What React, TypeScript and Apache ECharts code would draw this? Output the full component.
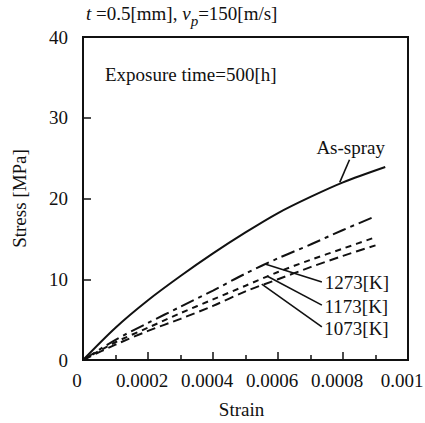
import React, { useEffect, useRef } from "react";
import * as echarts from "echarts";

const strain = [0, 0.0001, 0.0002, 0.0003, 0.0004, 0.0005, 0.0006, 0.0007, 0.0008, 0.0009];
const strainAsSpray = [0, 0.0001, 0.0002, 0.0003, 0.0004, 0.0005, 0.0006, 0.0007, 0.0008, 0.00093];
const asSpray = [0, 4.0, 7.4, 10.4, 13.2, 15.8, 18.2, 20.2, 22.0, 23.9];
const k1273 = [0, 2.5, 4.6, 6.6, 8.6, 10.7, 12.6, 14.3, 16.1, 17.8];
const k1173 = [0, 2.2, 4.0, 5.8, 7.5, 9.2, 10.9, 12.4, 13.8, 15.2];
const k1073 = [0, 1.9, 3.6, 5.1, 6.7, 8.5, 10.0, 11.5, 12.9, 14.2];
const xTicks = ["0", "0.0002", "0.0004", "0.0006", "0.0008", "0.001"];

const FONT = "'Liberation Serif', 'Times New Roman', serif";
const FS = 19;

function pairs(xs: number[], ys: number[]) {
  return xs.map((x, i) => [x, ys[i]]);
}

export default function App() {
  const ref = useRef<HTMLDivElement>(null);
  useEffect(() => {
    const chart = echarts.init(ref.current!, null, { renderer: "svg" });
    const leader = (from: number[], to: number[], text: string, pos: string) => ({
      silent: true,
      symbol: ["none", "none"],
      lineStyle: { color: "#111", width: 1.6, type: "solid" },
      label: {
        show: true,
        position: pos,
        formatter: text,
        color: "#111",
        fontFamily: FONT,
        fontSize: FS,
        distance: 3,
      },
      emphasis: { disabled: true },
      data: [[{ coord: from }, { coord: to }]],
    });
    const dashedSeries = (name: string, ys: number[], dash: number[], lead: any) => ({
      name,
      type: "line",
      data: pairs(strain, ys),
      smooth: 0.3,
      showSymbol: false,
      lineStyle: { color: "#111", width: 2, type: dash },
      markLine: lead,
    });
    chart.setOption({
      animation: false,
      backgroundColor: "#fff",
      textStyle: { fontFamily: FONT },
      grid: {
        left: 83,
        right: 17,
        top: 37,
        bottom: 63,
        show: true,
        borderColor: "#111",
        borderWidth: 2,
        containLabel: false,
        outerBoundsMode: "none",
      },
      xAxis: {
        type: "value",
        min: 0,
        max: 0.001,
        interval: 0.0002,
        name: "Strain",
        nameLocation: "middle",
        nameGap: 40,
        nameMoveOverlap: false,
        nameTextStyle: { fontFamily: FONT, fontSize: FS, color: "#111", padding: [0, 8, 0, 0] },
        axisLine: { show: true, lineStyle: { color: "#111", width: 2 } },
        axisTick: { show: true, inside: true, length: 8, lineStyle: { color: "#111", width: 1.5 } },
        minorTick: { show: true, splitNumber: 2, length: 5, lineStyle: { color: "#111", width: 1.5 } },
        splitLine: { show: false },
        axisLabel: {
          margin: 11,
          fontFamily: FONT,
          fontSize: FS,
          color: "#111",
          hideOverlap: false,
          padding: [0, 12, 0, 0],
          formatter: (v: number) => xTicks[Math.round(v / 0.0002)] ?? "",
        },
      },
      yAxis: {
        type: "value",
        min: 0,
        max: 40,
        interval: 10,
        name: "Stress [MPa]",
        nameLocation: "middle",
        nameGap: 54,
        nameMoveOverlap: false,
        nameTextStyle: { fontFamily: FONT, fontSize: FS, color: "#111" },
        axisLine: { show: true, lineStyle: { color: "#111", width: 2 } },
        axisTick: { show: true, inside: true, length: 8, lineStyle: { color: "#111", width: 1.5 } },
        splitLine: { show: false },
        axisLabel: { margin: 15, fontFamily: FONT, fontSize: FS, color: "#111" },
      },
      graphic: [
        {
          type: "text",
          left: 86,
          top: 4,
          style: {
            text: "{i|t} =0.5[mm], {i|v}{s|p}=150[m/s]",
            fontFamily: FONT,
            fontSize: FS,
            fill: "#111",
            rich: {
              i: { fontStyle: "italic", fontFamily: FONT, fontSize: FS },
              s: { fontStyle: "italic", fontFamily: FONT, fontSize: 15, padding: [15, 0, 0, 0] },
            },
          },
        },
        {
          type: "text",
          left: 105,
          top: 65,
          style: { text: "Exposure time=500[h]", fontFamily: FONT, fontSize: FS, fill: "#111" },
        },
      ],
      series: [
        {
          name: "As-spray",
          type: "line",
          data: pairs(strainAsSpray, asSpray),
          smooth: 0.3,
          showSymbol: false,
          lineStyle: { color: "#111", width: 2 },
          markLine: leader([0.00079, 22.0], [0.00082, 24.8], "As-spray", "end"),
        },
        dashedSeries("1273[K]", k1273, [14, 5, 4, 5], leader([0.00056, 11.9], [0.000735, 9.66], "1273[K]", "end")),
        dashedSeries("1173[K]", k1173, [6, 5], leader([0.000566, 10.4], [0.000735, 6.8], "1173[K]", "end")),
        dashedSeries("1073[K]", k1073, [9, 5], leader([0.00055, 9.4], [0.000735, 4.1], "1073[K]", "end")),
      ],
    });
    return () => chart.dispose();
  }, []);
  return <div ref={ref} style={{ width: 425, height: 423, position: "absolute", left: 0, top: 0 }} />;
}
